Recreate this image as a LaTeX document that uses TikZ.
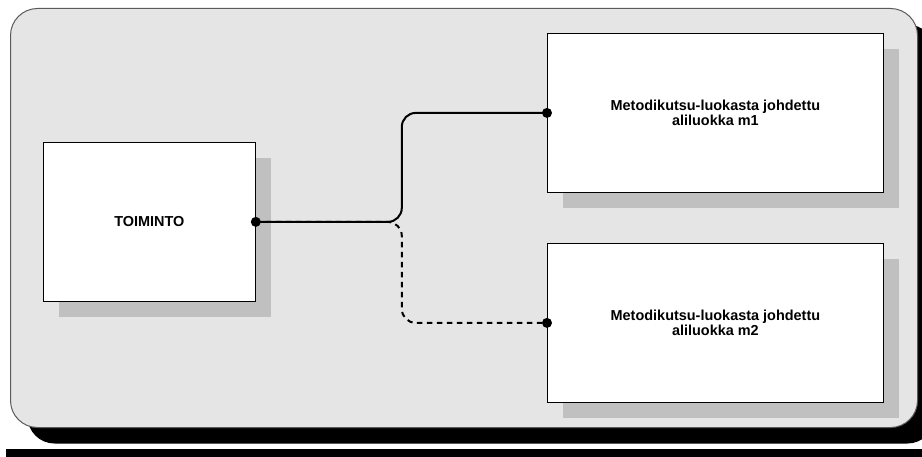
\documentclass[tikz,border=0pt]{standalone}
\usepackage{fontspec}
\setmainfont{Liberation Sans}
\usetikzlibrary{shadows}
\definecolor{panelgray}{HTML}{E5E5E5}
\definecolor{shadegray}{HTML}{C0C0C0}
\definecolor{rimgray}{HTML}{5A5A5A}
\begin{document}
\begin{tikzpicture}[x=1bp,y=-1bp,
  panelbox/.style={draw=rimgray, line width=1bp, fill=panelgray,
    rounded corners=27bp, anchor=north west, inner sep=0pt,
    minimum width=907bp, minimum height=419bp,
    drop shadow={shadow xshift=17bp, shadow yshift=-16bp, fill=black, opacity=1}},
  classbox/.style={draw=black, line width=0.8bp, fill=white,
    anchor=north west, inner sep=0pt, align=center,
    font=\bfseries\fontsize{14.5}{15}\selectfont,
    drop shadow={shadow xshift=16bp, shadow yshift=-16bp, fill=shadegray, opacity=1}},
  port/.style={circle, fill=black, inner sep=0pt, minimum size=10bp},
  wire/.style={line width=2bp, rounded corners=14bp},
  optwire/.style={wire, dash pattern=on 5.5bp off 4.5bp},
]
\useasboundingbox (0,0) rectangle (922,457);
% underline bar along the bottom edge
\fill[black] (6,449) rectangle (930,457);
% background panel
\node[panelbox] (panel) at (10,8) {};
% class boxes
\node[classbox, minimum width=212bp, minimum height=159bp] (act) at (43,142) {TOIMINTO};
\node[classbox, minimum width=336bp, minimum height=159bp] (m1) at (547,33)
  {Metodikutsu-luokasta johdettu\\aliluokka m1};
\node[classbox, minimum width=336bp, minimum height=159bp] (m2) at (547,243)
  {Metodikutsu-luokasta johdettu\\aliluokka m2};
% connectors
\draw[optwire] (act.east) -- ++(146,0) |- (m2.west);
\draw[wire] (act.east) -- ++(146,0) |- (m1.west);
% end points
\node[port] (pa) at (act.east) {};
\node[port] (p1) at (m1.west) {};
\node[port] (p2) at (m2.west) {};
\end{tikzpicture}
\end{document}
